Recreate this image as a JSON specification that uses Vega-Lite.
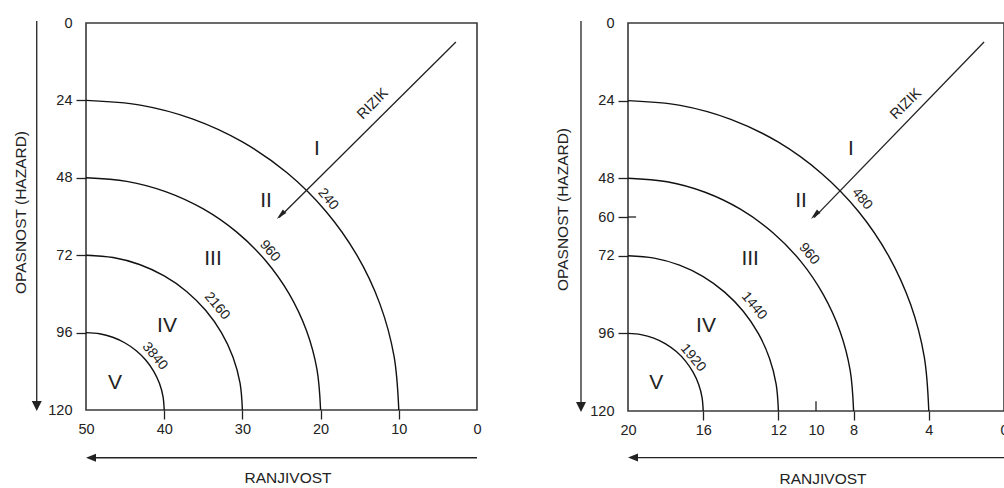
{
  "$schema": "https://vega.github.io/schema/vega-lite/v6.json",
  "background": "white",
  "padding": {"left": 13, "top": 14, "right": 0, "bottom": 0},
  "bounds": "flush",
  "spacing": 151,
  "config": {
    "view": {"stroke": "#3a3a3a", "strokeWidth": 1.6},
    "axis": {
      "grid": false, "domain": false,
      "labelFont": "Liberation Sans", "titleFont": "Liberation Sans",
      "labelFontSize": 14.5, "titleFontSize": 15.5, "titleFontWeight": "normal",
      "labelColor": "#222", "titleColor": "#222", "tickColor": "#222", "tickWidth": 1.3
    },
    "text": {"font": "Liberation Sans", "color": "#222"}
  },
  "datasets": {
    "arcsL": [
      {"arc": "3840", "x": 40, "y": 120}, {"arc": "3840", "x": 40.15, "y": 115.83}, {"arc": "3840", "x": 40.6, "y": 111.79}, {"arc": "3840", "x": 41.34, "y": 108}, {"arc": "3840", "x": 42.34, "y": 104.57}, {"arc": "3840", "x": 43.57, "y": 101.62}, {"arc": "3840", "x": 45, "y": 99.22}, {"arc": "3840", "x": 46.58, "y": 97.45}, {"arc": "3840", "x": 48.26, "y": 96.36}, {"arc": "3840", "x": 50, "y": 96},
      {"arc": "2160", "x": 30, "y": 120}, {"arc": "2160", "x": 30.3, "y": 111.67}, {"arc": "2160", "x": 31.21, "y": 103.58}, {"arc": "2160", "x": 32.68, "y": 96}, {"arc": "2160", "x": 34.68, "y": 89.15}, {"arc": "2160", "x": 37.14, "y": 83.23}, {"arc": "2160", "x": 40, "y": 78.43}, {"arc": "2160", "x": 43.16, "y": 74.89}, {"arc": "2160", "x": 46.53, "y": 72.73}, {"arc": "2160", "x": 50, "y": 72},
      {"arc": "960", "x": 20, "y": 120}, {"arc": "960", "x": 20.46, "y": 107.5}, {"arc": "960", "x": 21.81, "y": 95.38}, {"arc": "960", "x": 24.02, "y": 84}, {"arc": "960", "x": 27.02, "y": 73.72}, {"arc": "960", "x": 30.72, "y": 64.85}, {"arc": "960", "x": 35, "y": 57.65}, {"arc": "960", "x": 39.74, "y": 52.34}, {"arc": "960", "x": 44.79, "y": 49.09}, {"arc": "960", "x": 50, "y": 48},
      {"arc": "240", "x": 10, "y": 120}, {"arc": "240", "x": 10.61, "y": 103.33}, {"arc": "240", "x": 12.41, "y": 87.17}, {"arc": "240", "x": 15.36, "y": 72}, {"arc": "240", "x": 19.36, "y": 58.29}, {"arc": "240", "x": 24.29, "y": 46.46}, {"arc": "240", "x": 30, "y": 36.86}, {"arc": "240", "x": 36.32, "y": 29.79}, {"arc": "240", "x": 43.06, "y": 25.46}, {"arc": "240", "x": 50, "y": 24}
    ],
    "arcsR": [
      {"arc": "1920", "x": 16, "y": 120}, {"arc": "1920", "x": 16.06, "y": 115.83}, {"arc": "1920", "x": 16.24, "y": 111.79}, {"arc": "1920", "x": 16.54, "y": 108}, {"arc": "1920", "x": 16.94, "y": 104.57}, {"arc": "1920", "x": 17.43, "y": 101.62}, {"arc": "1920", "x": 18, "y": 99.22}, {"arc": "1920", "x": 18.63, "y": 97.45}, {"arc": "1920", "x": 19.31, "y": 96.36}, {"arc": "1920", "x": 20, "y": 96},
      {"arc": "1440", "x": 12, "y": 120}, {"arc": "1440", "x": 12.12, "y": 111.67}, {"arc": "1440", "x": 12.48, "y": 103.58}, {"arc": "1440", "x": 13.07, "y": 96}, {"arc": "1440", "x": 13.87, "y": 89.15}, {"arc": "1440", "x": 14.86, "y": 83.23}, {"arc": "1440", "x": 16, "y": 78.43}, {"arc": "1440", "x": 17.26, "y": 74.89}, {"arc": "1440", "x": 18.61, "y": 72.73}, {"arc": "1440", "x": 20, "y": 72},
      {"arc": "960", "x": 8, "y": 120}, {"arc": "960", "x": 8.18, "y": 107.5}, {"arc": "960", "x": 8.72, "y": 95.38}, {"arc": "960", "x": 9.61, "y": 84}, {"arc": "960", "x": 10.81, "y": 73.72}, {"arc": "960", "x": 12.29, "y": 64.85}, {"arc": "960", "x": 14, "y": 57.65}, {"arc": "960", "x": 15.9, "y": 52.34}, {"arc": "960", "x": 17.92, "y": 49.09}, {"arc": "960", "x": 20, "y": 48},
      {"arc": "480", "x": 4, "y": 120}, {"arc": "480", "x": 4.24, "y": 103.33}, {"arc": "480", "x": 4.96, "y": 87.17}, {"arc": "480", "x": 6.14, "y": 72}, {"arc": "480", "x": 7.74, "y": 58.29}, {"arc": "480", "x": 9.72, "y": 46.46}, {"arc": "480", "x": 12, "y": 36.86}, {"arc": "480", "x": 14.53, "y": 29.79}, {"arc": "480", "x": 17.22, "y": 25.46}, {"arc": "480", "x": 20, "y": 24}
    ],
    "rulesL": [
      {"x": 56.3, "y": -0.6, "x2": 56.3, "y2": 119.5},
      {"x": 49.5, "y": 134.8, "x2": 0, "y2": 134.8},
      {"x": 2.7, "y": 5.9, "x2": 25.3, "y2": 60.3}
    ],
    "rulesR": [
      {"x": 22.5, "y": -0.6, "x2": 22.5, "y2": 119.5},
      {"x": 19.8, "y": 134.4, "x2": 0, "y2": 134.4},
      {"x": 1.06, "y": 5.9, "x2": 10.1, "y2": 60.2},
      {"x": 20, "y": 60, "x2": 19.57, "y2": 60},
      {"x": 10, "y": 120, "x2": 10, "y2": 117}
    ],
    "headsL": [
      {"kind": "down", "x": 56.3, "y": 120.3},
      {"kind": "left", "x": 50, "y": 134.8},
      {"kind": "diag", "x": 25.6, "y": 60.8}
    ],
    "headsR": [
      {"kind": "down", "x": 22.5, "y": 120.3},
      {"kind": "left", "x": 20, "y": 134.4},
      {"kind": "diag", "x": 10.27, "y": 60.6}
    ],
    "zonesL": [
      {"t": "I", "x": 20.46, "y": 39.1}, {"t": "II", "x": 26.98, "y": 55.2}, {"t": "III", "x": 33.76, "y": 73.2}, {"t": "IV", "x": 39.64, "y": 94}, {"t": "V", "x": 46.3, "y": 111.6}
    ],
    "zonesR": [
      {"t": "I", "x": 8.14, "y": 39}, {"t": "II", "x": 10.8, "y": 55}, {"t": "III", "x": 13.5, "y": 73}, {"t": "IV", "x": 15.85, "y": 93.7}, {"t": "V", "x": 18.5, "y": 111.3}
    ],
    "arcLabL": [
      {"t": "240", "x": 19.05, "y": 54.6}, {"t": "960", "x": 26.5, "y": 70.7}, {"t": "2160", "x": 33.25, "y": 87.75}, {"t": "3840", "x": 41.2, "y": 103.3}
    ],
    "arcLabR": [
      {"t": "480", "x": 7.55, "y": 54.4}, {"t": "960", "x": 10.37, "y": 71.4}, {"t": "1440", "x": 13.3, "y": 87.5}, {"t": "1920", "x": 16.54, "y": 103.6}
    ],
    "riskL": [{"t": "RIZIK", "x": 13.3, "y": 25.1}],
    "riskR": [{"t": "RIZIK", "x": 5.21, "y": 25.1}]
  },
  "hconcat": [
    {
      "width": 391,
      "height": 387,
      "encoding": {
        "x": {"field": "x", "type": "quantitative", "scale": {"domain": [0, 50], "reverse": true, "nice": false, "zero": false},
          "axis": {"title": "RANJIVOST", "values": [50, 40, 30, 20, 10, 0], "tickSize": 9, "labelPadding": 3, "labelFlush": false, "labelOverlap": false, "titlePadding": 35, "titleX": 201.5,
            "tickOpacity": {"condition": {"test": "datum.value == 50 || datum.value == 0", "value": 0}, "value": 1}}},
        "y": {"field": "y", "type": "quantitative", "scale": {"domain": [0, 120], "reverse": true, "nice": false, "zero": false},
          "axis": {"title": "OPASNOST (HAZARD)", "values": [0, 24, 48, 72, 96, 120], "tickSize": 10, "labelPadding": 4, "labelOverlap": false, "titlePadding": 19, "titleY": 189,
            "tickOpacity": {"condition": {"test": "datum.value == 0 || datum.value == 120", "value": 0}, "value": 1}}}
      },
      "layer": [
        {"data": {"name": "arcsL"}, "mark": {"type": "line", "color": "#111", "strokeWidth": 1.4, "interpolate": "catmull-rom"}, "encoding": {"detail": {"field": "arc"}}},
        {"data": {"name": "rulesL"}, "mark": {"type": "rule", "color": "#222", "strokeWidth": 1.3}, "encoding": {"x2": {"field": "x2"}, "y2": {"field": "y2"}}},
        {"data": {"name": "headsL"}, "mark": {"type": "point", "filled": true, "color": "#222", "opacity": 1, "size": 100},
          "encoding": {"shape": {"field": "kind", "type": "nominal", "legend": null, "scale": {"domain": ["down", "left", "diag"], "range": ["M0,0L-1,-2L1,-2Z", "M0,0L2,-0.8L2,0.8Z", "M0,0L1.91,-1.2L1.2,-1.91Z"]}}}},
        {"data": {"name": "zonesL"}, "mark": {"type": "text", "fontSize": 21, "align": "center", "baseline": "middle"}, "encoding": {"text": {"field": "t"}}},
        {"data": {"name": "arcLabL"}, "mark": {"type": "text", "fontSize": 14, "align": "center", "baseline": "middle", "angle": 50}, "encoding": {"text": {"field": "t"}}},
        {"data": {"name": "riskL"}, "mark": {"type": "text", "fontSize": 14.5, "align": "center", "baseline": "middle", "angle": -45}, "encoding": {"text": {"field": "t"}}}
      ]
    },
    {
      "width": 376,
      "height": 388,
      "encoding": {
        "x": {"field": "x", "type": "quantitative", "scale": {"domain": [0, 20], "reverse": true, "nice": false, "zero": false},
          "axis": {"title": "RANJIVOST", "values": [20, 16, 12, 10, 8, 4, 0], "tickSize": 9, "labelPadding": 3, "labelFlush": false, "labelOverlap": false, "titlePadding": 35, "titleX": 194.5,
            "tickOpacity": {"condition": {"test": "datum.value == 20 || datum.value == 10 || datum.value == 0", "value": 0}, "value": 1}}},
        "y": {"field": "y", "type": "quantitative", "scale": {"domain": [0, 120], "reverse": true, "nice": false, "zero": false},
          "axis": {"title": "OPASNOST (HAZARD)", "values": [0, 24, 48, 60, 72, 96, 120], "tickSize": 10, "labelPadding": 4, "labelOverlap": false, "titlePadding": 19, "titleY": 186,
            "tickOpacity": {"condition": {"test": "datum.value == 0 || datum.value == 120", "value": 0}, "value": 1}}}
      },
      "layer": [
        {"data": {"name": "arcsR"}, "mark": {"type": "line", "color": "#111", "strokeWidth": 1.4, "interpolate": "catmull-rom"}, "encoding": {"detail": {"field": "arc"}}},
        {"data": {"name": "rulesR"}, "mark": {"type": "rule", "color": "#222", "strokeWidth": 1.3}, "encoding": {"x2": {"field": "x2"}, "y2": {"field": "y2"}}},
        {"data": {"name": "headsR"}, "mark": {"type": "point", "filled": true, "color": "#222", "opacity": 1, "size": 100},
          "encoding": {"shape": {"field": "kind", "type": "nominal", "legend": null, "scale": {"domain": ["down", "left", "diag"], "range": ["M0,0L-1,-2L1,-2Z", "M0,0L2,-0.8L2,0.8Z", "M0,0L1.91,-1.2L1.2,-1.91Z"]}}}},
        {"data": {"name": "zonesR"}, "mark": {"type": "text", "fontSize": 21, "align": "center", "baseline": "middle"}, "encoding": {"text": {"field": "t"}}},
        {"data": {"name": "arcLabR"}, "mark": {"type": "text", "fontSize": 14, "align": "center", "baseline": "middle", "angle": 50}, "encoding": {"text": {"field": "t"}}},
        {"data": {"name": "riskR"}, "mark": {"type": "text", "fontSize": 14.5, "align": "center", "baseline": "middle", "angle": -45}, "encoding": {"text": {"field": "t"}}}
      ]
    }
  ]
}
